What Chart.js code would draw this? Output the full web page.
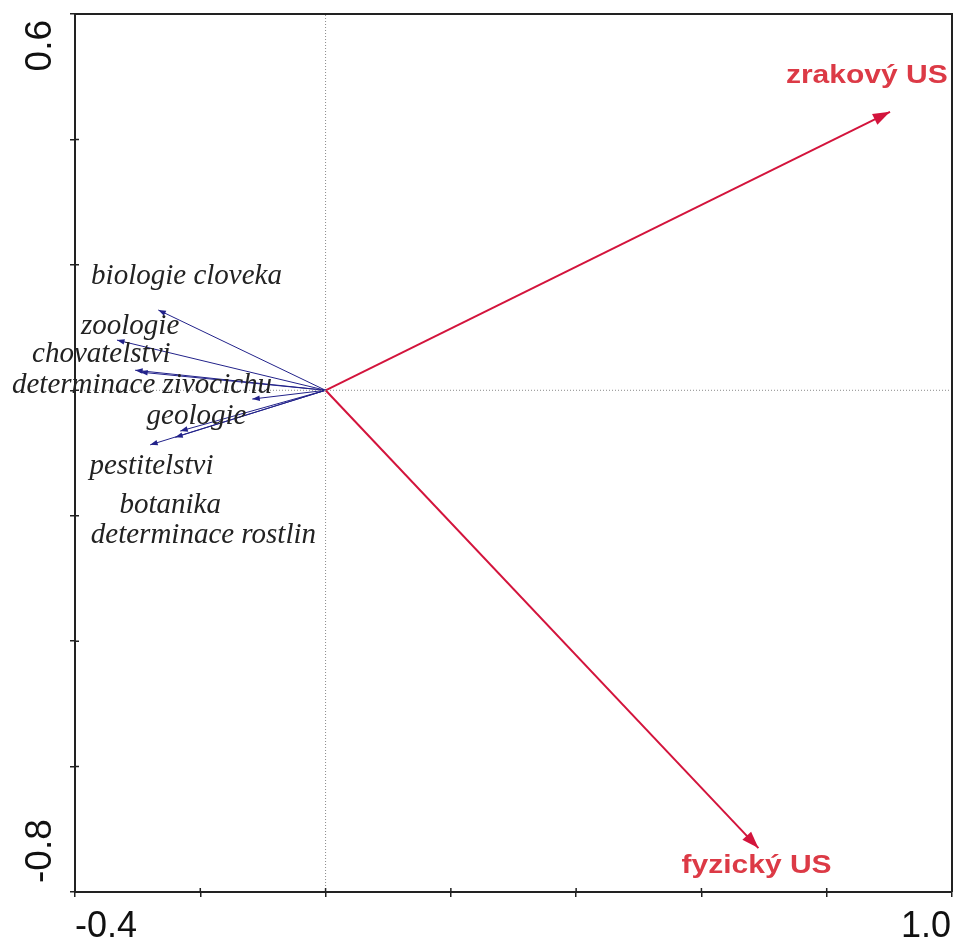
<!DOCTYPE html>
<html>
<head>
<meta charset="utf-8">
<script src="https://cdn.jsdelivr.net/npm/chart.js@4.4.0/dist/chart.umd.min.js"></script>
<style>
  html, body { margin: 0; padding: 0; background: #fff; }
  #wrap { width: 956px; height: 940px; }
</style>
</head>
<body>
<div id="wrap"><canvas id="biplot" width="956" height="940"></canvas></div>
<script>
// axis ranges (only the end values get a label)
const xRange = [-0.4, 1.0];
const yRange = [-0.8, 0.6];
const tickStep = 0.2;

// explanatory variables - red arrows
const envNames = ['zrakový US', 'fyzický US'];
const envX = [0.901, 0.691];
const envY = [0.444, -0.730];
const envLabelX = [0.864, 0.688];
const envLabelY = [0.490, -0.770];

// subjects - blue arrows
const subjNames = ['biologie cloveka', 'zoologie', 'chovatelstvi', 'determinace zivocichu',
                   'geologie', 'pestitelstvi', 'botanika', 'determinace rostlin'];
const subjX = [-0.267, -0.333, -0.304, -0.117, -0.232, -0.280, -0.240, -0.296];
const subjY = [0.128, 0.080, 0.032, -0.014, -0.065, -0.087, -0.075, 0.029];
const subjLabelX = [-0.222, -0.312, -0.358, -0.293, -0.206, -0.278, -0.248, -0.195];
const subjLabelY = [0.181, 0.1025, 0.058, 0.008, -0.041, -0.121, -0.183, -0.231];

const RED = '#d3143c';
const RED_TEXT = '#dc3a46';
const BLUE = '#22228a';
const SANS = '"Liberation Sans", Arial, sans-serif';
const SERIF = '"Liberation Serif", "Times New Roman", serif';

function arrowSet(x, y, color, width, head) {
    return {
        data: [{ x: 0, y: 0 }, { x: x, y: y }],
        showLine: true,
        borderColor: color,
        borderWidth: width,
        pointRadius: 0,
        arrowHead: head,
        arrowColor: color
    };
}

const datasets = [];
// dotted lines through the origin
datasets.push({
    data: [{ x: 0, y: yRange[0] }, { x: 0, y: yRange[1] }],
    showLine: true, borderColor: '#8a8a8a', borderWidth: 1, borderDash: [1, 2], pointRadius: 0
});
datasets.push({
    data: [{ x: xRange[0], y: 0 }, { x: xRange[1], y: 0 }],
    showLine: true, borderColor: '#8a8a8a', borderWidth: 1, borderDash: [1, 2], pointRadius: 0
});
subjX.forEach((v, i) => datasets.push(arrowSet(v, subjY[i], BLUE, 1, [7.5, 2.8])));
envX.forEach((v, i) => datasets.push(arrowSet(v, envY[i], RED, 2, [17, 6])));

// arrow heads, frame, labels
const biplotPlugin = {
    id: 'biplot',
    afterDatasetsDraw(chart) {
        const ctx = chart.ctx;
        const xs = chart.scales.x, ys = chart.scales.y;
        const area = chart.chartArea;

        chart.data.datasets.forEach(ds => {
            if (!ds.arrowHead) return;
            const x0 = xs.getPixelForValue(ds.data[0].x), y0 = ys.getPixelForValue(ds.data[0].y);
            const x1 = xs.getPixelForValue(ds.data[1].x), y1 = ys.getPixelForValue(ds.data[1].y);
            const a = Math.atan2(y1 - y0, x1 - x0);
            const len = ds.arrowHead[0], half = ds.arrowHead[1];
            ctx.save();
            ctx.translate(x1, y1);
            ctx.rotate(a);
            ctx.beginPath();
            ctx.moveTo(0, 0);
            ctx.lineTo(-len, -half);
            ctx.lineTo(-len, half);
            ctx.closePath();
            ctx.fillStyle = ds.arrowColor;
            ctx.fill();
            ctx.restore();
        });

        // top and right frame lines
        ctx.save();
        ctx.strokeStyle = '#222';
        ctx.lineWidth = 2;
        ctx.beginPath();
        ctx.moveTo(area.left, area.top);
        ctx.lineTo(area.right, area.top);
        ctx.lineTo(area.right, area.bottom);
        ctx.stroke();

        // small inner part of the tick marks (they cross the axis)
        ctx.lineWidth = 1.5;
        ctx.beginPath();
        xs.ticks.forEach(t => {
            const px = xs.getPixelForValue(t.value);
            ctx.moveTo(px, area.bottom);
            ctx.lineTo(px, area.bottom - 4);
        });
        ys.ticks.forEach(t => {
            const py = ys.getPixelForValue(t.value);
            ctx.moveTo(area.left, py);
            ctx.lineTo(area.left + 4, py);
        });
        ctx.stroke();
        ctx.restore();

        // subject labels
        ctx.save();
        ctx.font = 'italic 29px ' + SERIF;
        ctx.fillStyle = '#222';
        ctx.textAlign = 'center';
        ctx.textBaseline = 'middle';
        subjNames.forEach((n, i) => {
            ctx.fillText(n, xs.getPixelForValue(subjLabelX[i]), ys.getPixelForValue(subjLabelY[i]));
        });
        ctx.restore();

        // variable labels (bold, slightly wide)
        envNames.forEach((n, i) => {
            ctx.save();
            ctx.translate(xs.getPixelForValue(envLabelX[i]), ys.getPixelForValue(envLabelY[i]));
            ctx.scale(1.2, 1);
            ctx.font = 'bold 25px ' + SANS;
            ctx.fillStyle = RED_TEXT;
            ctx.textAlign = 'center';
            ctx.textBaseline = 'alphabetic';
            ctx.fillText(n, 0, 0);
            ctx.restore();
        });

        // end tick labels of the axes
        ctx.save();
        ctx.font = '36px ' + SANS;
        ctx.fillStyle = '#111';
        ctx.textBaseline = 'alphabetic';
        ctx.textAlign = 'left';
        ctx.fillText(xRange[0].toFixed(1), xs.getPixelForValue(xRange[0]), area.bottom + 45);
        ctx.textAlign = 'right';
        ctx.fillText(xRange[1].toFixed(1), xs.getPixelForValue(xRange[1]) - 1, area.bottom + 45);
        ctx.restore();

        ctx.save();
        ctx.font = '37px ' + SANS;
        ctx.fillStyle = '#111';
        ctx.textBaseline = 'middle';
        ctx.translate(41, 0);
        ctx.rotate(-Math.PI / 2);
        ctx.textAlign = 'right';
        ctx.fillText(yRange[1].toFixed(1), -(ys.getPixelForValue(yRange[1]) + 6), 0);
        ctx.textAlign = 'left';
        ctx.fillText(yRange[0].toFixed(1), -(ys.getPixelForValue(yRange[0]) - 9), 0);
        ctx.restore();
    }
};

const axisBase = {
    type: 'linear',
    grid: { drawOnChartArea: false, drawTicks: true, tickLength: 5, color: '#222', lineWidth: 1.5 },
    border: { display: true, color: '#222', width: 2 },
    ticks: { display: false, stepSize: tickStep, autoSkip: false }
};

new Chart(document.getElementById('biplot').getContext('2d'), {
    type: 'scatter',
    data: { datasets: datasets },
    options: {
        responsive: false,
        animation: false,
        devicePixelRatio: 1,
        events: [],
        clip: false,
        layout: { padding: { top: 14, right: 4, left: 0, bottom: 0 } },
        plugins: { legend: { display: false }, tooltip: { enabled: false } },
        scales: {
            x: Object.assign({}, axisBase, {
                min: xRange[0], max: xRange[1], position: 'bottom',
                afterFit: s => { s.height = 48; }
            }),
            y: Object.assign({}, axisBase, {
                min: yRange[0], max: yRange[1], position: 'left',
                afterFit: s => { s.width = 75; }
            })
        }
    },
    plugins: [biplotPlugin]
});
</script>
</body>
</html>
